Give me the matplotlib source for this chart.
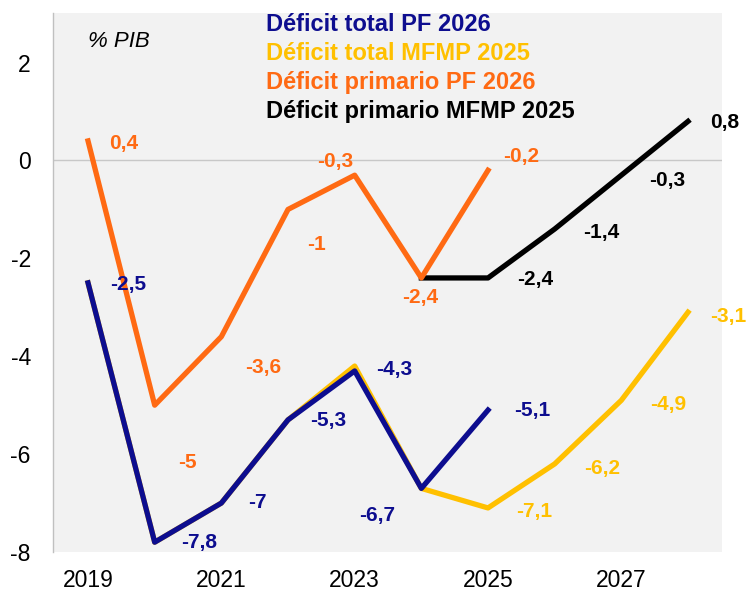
import matplotlib.pyplot as plt

plt.rcParams["axes.unicode_minus"] = False
plt.rcParams["font.family"] = ["Liberation Sans", "DejaVu Sans"]

# data (% PIB)
years_pf = [2019, 2020, 2021, 2022, 2023, 2024, 2025]
years_mfmp = [2019, 2020, 2021, 2022, 2023, 2024, 2025, 2026, 2027, 2028]
years_prim_mfmp = [2024, 2025, 2026, 2027, 2028]

total_pf = [-2.5, -7.8, -7.0, -5.3, -4.3, -6.7, -5.1]
total_mfmp = [-2.5, -7.8, -7.0, -5.3, -4.2, -6.7, -7.1, -6.2, -4.9, -3.1]
prim_pf = [0.4, -5.0, -3.6, -1.0, -0.3, -2.4, -0.2]
prim_mfmp = [-2.4, -2.4, -1.4, -0.3, 0.8]

names = ["Déficit total PF 2026", "Déficit total MFMP 2025",
         "Déficit primario PF 2026", "Déficit primario MFMP 2025"]

BLUE = "#0d0d8f"
YELLOW = "#ffc000"
ORANGE = "#ff6a13"
BLACK = "#000000"

def fmt(v):
    s = ("%.1f" % v).replace(".", ",")
    if s.endswith(",0"):
        s = s[:-2]
    return s

fig = plt.figure(figsize=(7.51, 5.91), dpi=100)
ax = fig.add_axes([0.0706, 0.066, 0.8908, 0.9125])
ax.set_facecolor("#f2f2f2")

ax.axhline(0, color="#c8c8c8", lw=1, zorder=1)

lw = 3.8
ax.plot(years_mfmp, total_mfmp, color=YELLOW, lw=lw, zorder=2)
ax.plot(years_pf, total_pf, color=BLUE, lw=lw, zorder=3)
ax.plot(years_prim_mfmp, prim_mfmp, color=BLACK, lw=lw, zorder=2)
ax.plot(years_pf, prim_pf, color=ORANGE, lw=lw, zorder=3)

lab_kw = dict(textcoords="offset pixels", ha="center", va="center",
              fontsize=15, fontweight="bold")

# label offsets in pixels (dx, dy)
off_total_pf = [(40, -2), (44, 0), (36, 1), (40, -1), (40, 1), (-44, -27), (44, 0)]
for x, y, o in zip(years_pf, total_pf, off_total_pf):
    ax.annotate(fmt(y), (x, y), xytext=o, color=BLUE, **lab_kw)

off_total_mfmp = [(46, -4), (48, -5), (47, -4), (40, -4)]
for x, y, o in zip(years_mfmp[6:], total_mfmp[6:], off_total_mfmp):
    ax.annotate(fmt(y), (x, y), xytext=o, color=YELLOW, **lab_kw)

off_prim_pf = [(36, -3), (33, -57), (42, -31), (28, -35), (-19, 14), (-1, -20), (33, 14)]
for x, y, o in zip(years_pf, prim_pf, off_prim_pf):
    ax.annotate(fmt(y), (x, y), xytext=o, color=ORANGE, **lab_kw)

off_prim_mfmp = [(47, -2), (47, -3), (46, -5), (37, -1)]
for x, y, o in zip(years_prim_mfmp[1:], prim_mfmp[1:], off_prim_mfmp):
    ax.annotate(fmt(y), (x, y), xytext=o, color=BLACK, **lab_kw)

# legend as coloured text
baselines = [31, 60, 89, 118]
for name, col, yb in zip(names, [BLUE, YELLOW, ORANGE, BLACK], baselines):
    fig.text(266 / 751, 1 - yb / 591, name, color=col, fontsize=17,
             fontweight="bold", ha="left", va="baseline")

fig.text(88 / 751, 1 - 47 / 591, "% PIB", fontsize=16, style="italic",
         ha="left", va="baseline")

ax.set_xlim(2018.475, 2028.51)
ax.set_ylim(-8, 3.02)
ax.set_xticks([2019, 2021, 2023, 2025, 2027])
ax.set_yticks([-8, -6, -4, -2, 0, 2])
ax.tick_params(length=0, labelsize=16.5)
ax.tick_params(axis="y", pad=16)
ax.tick_params(axis="x", pad=12)

for s in ["top", "right", "bottom"]:
    ax.spines[s].set_visible(False)
ax.spines["left"].set_color("#c0c0c0")
ax.spines["left"].set_linewidth(1)

fig.savefig("out.png", dpi=100)
